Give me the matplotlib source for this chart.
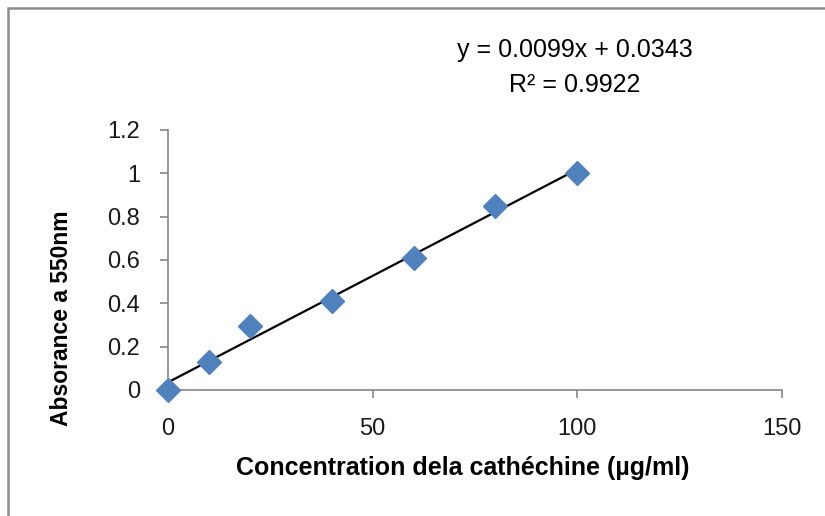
import numpy as np
import matplotlib.pyplot as plt
from matplotlib.patches import Rectangle

# Données
concentration = [0, 10, 20, 40, 60, 80, 100]
absorbance = [0, 0.13, 0.295, 0.41, 0.61, 0.85, 1.0]
x_ticks = [0, 50, 100, 150]
y_ticks = [0, 0.2, 0.4, 0.6, 0.8, 1, 1.2]
y_tick_labels = ["0", "0.2", "0.4", "0.6", "0.8", "1", "1.2"]

plt.rcParams['font.family'] = ['Liberation Sans', 'DejaVu Sans']

fig = plt.figure(figsize=(8.25, 5.16), dpi=100)
ax = fig.add_axes([168 / 825, 1 - 390 / 516, (782 - 168) / 825, (390 - 130) / 516])

# Cadre gris autour du graphique
fig.patches.append(Rectangle((8 / 825, -0.1), 1.2, 1 - 8 / 516 + 0.1,
                             transform=fig.transFigure, fill=False,
                             edgecolor='#8c8c8c', linewidth=1.8))

# Droite de régression
a, b = np.polyfit(concentration, absorbance, 1)
xs = np.array([concentration[0], concentration[-1]])
ax.plot(xs, a * xs + b, color='black', linewidth=1.6, zorder=2)

# Points
ax.plot(concentration, absorbance, 'D', color='#4F81BD', markersize=12,
        markeredgecolor='#4F81BD', zorder=3, clip_on=False)

ax.set_xlim(0, 150)
ax.set_ylim(0, 1.2)
ax.set_xticks(x_ticks)
ax.set_yticks(y_ticks)
ax.set_yticklabels(y_tick_labels)

for side in ['top', 'right']:
    ax.spines[side].set_visible(False)
for side in ['left', 'bottom']:
    ax.spines[side].set_color('#868686')
    ax.spines[side].set_linewidth(1.2)
ax.tick_params(axis='both', colors='#868686', labelcolor='#1a1a1a',
               labelsize=17, length=6, width=1.2, direction='out')
ax.tick_params(axis='x', pad=14)
ax.tick_params(axis='y', pad=14)

fig.text(463 / 825, 1 - 468 / 516, "Concentration dela cathéchine (µg/ml)",
         ha='center', va='center', fontsize=18, fontweight='bold')
fig.text(62 / 825, 1 - 318 / 516, "Absorance a 550nm", rotation=90,
         ha='center', va='center', fontsize=16.5, fontweight='bold')

fig.text(575 / 825, 1 - 50 / 516, "y = 0.0099x + 0.0343",
         ha='center', va='center', fontsize=18)
fig.text(575 / 825, 1 - 85 / 516, "R² = 0.9922",
         ha='center', va='center', fontsize=18)

fig.savefig('out.png', dpi=100)
